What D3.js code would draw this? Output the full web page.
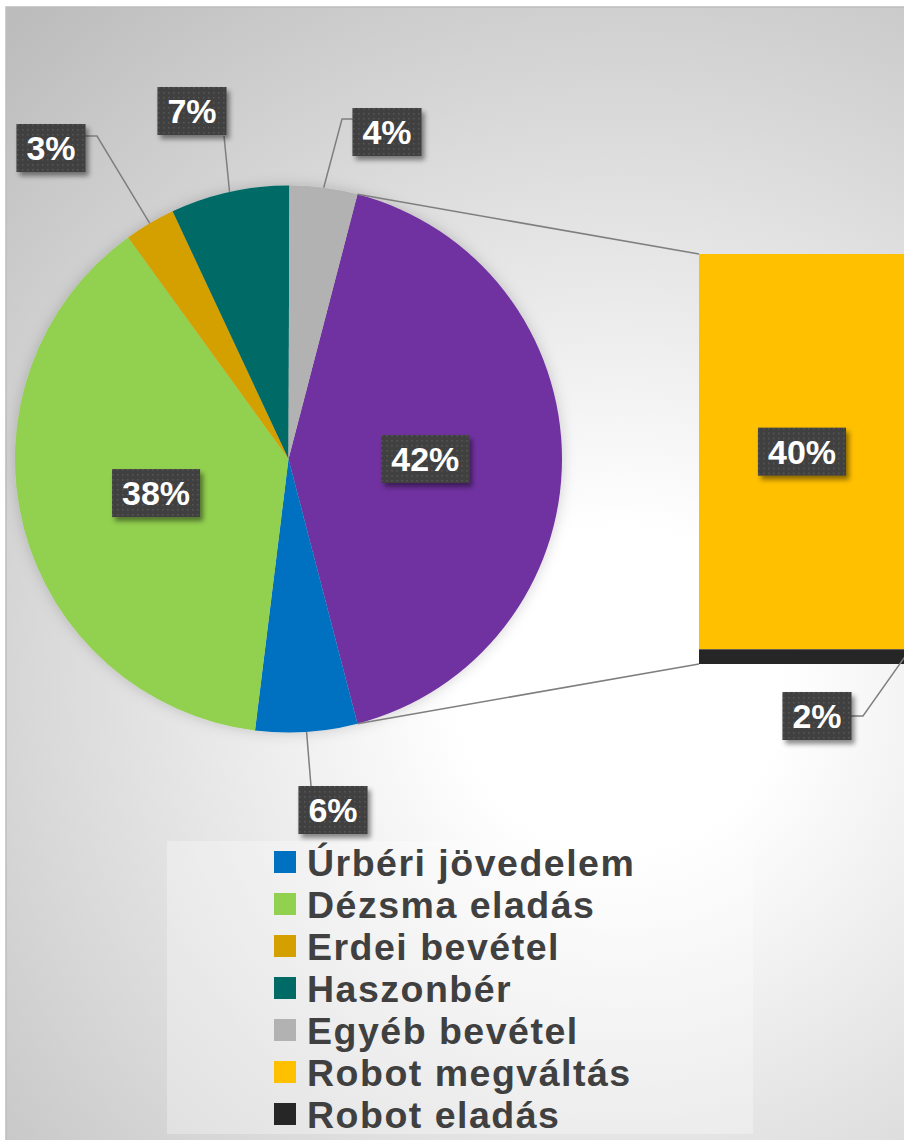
<!DOCTYPE html>
<html>
<head>
<meta charset="utf-8">
<script src="https://cdn.jsdelivr.net/npm/d3@7/dist/d3.min.js"></script>
<style>
body { margin: 0; background: #fff; }
svg { display: block; font-family: "Liberation Sans", Arial, sans-serif; }
</style>
</head>
<body>
<div id="chart-div"></div>
<script>
// slices that stay in the pie
var pieNames = ["Úrbéri jövedelem", "Dézsma eladás", "Erdei bevétel", "Haszonbér", "Egyéb bevétel"];
var pieValues = [6, 38, 3, 7, 4];
// slices split out into the bar on the right
var barNames = ["Robot megváltás", "Robot eladás"];
var barValues = [40.3, 1.5];

var pieColors = ["#0070C0", "#92D050", "#D4A000", "#006A66", "#B2B2B2"];
var barColors = ["#FFC000", "#262626"];
var otherColor = "#7030A0";

var width = 904,
    height = 1140;

var svg = d3.select("#chart-div")
    .append("svg")
    .attr("width", width)
    .attr("height", height)
    .attr("viewBox", [0, 0, width, height]);

var defs = svg.append("defs");

// background gradient
var bg = defs.append("radialGradient")
    .attr("id", "bg")
    .attr("gradientUnits", "userSpaceOnUse")
    .attr("cx", 620).attr("cy", 690).attr("r", 900);
bg.append("stop").attr("offset", 0).attr("stop-color", "#ffffff");
bg.append("stop").attr("offset", 0.18).attr("stop-color", "#ffffff");
bg.append("stop").attr("offset", 1).attr("stop-color", "#bcbcbc");

// dotted texture for label boxes
var dots = defs.append("pattern")
    .attr("id", "dots")
    .attr("width", 5).attr("height", 5)
    .attr("patternUnits", "userSpaceOnUse");
dots.append("rect").attr("width", 5).attr("height", 5).attr("fill", "#404040");
dots.append("rect").attr("x", 1).attr("y", 1).attr("width", 1.5).attr("height", 1.5).attr("fill", "#575757");

var shadow = defs.append("filter").attr("id", "shadow")
    .attr("x", "-30%").attr("y", "-30%").attr("width", "160%").attr("height", "160%");
shadow.append("feDropShadow")
    .attr("dx", 3).attr("dy", 4).attr("stdDeviation", 2.5)
    .attr("flood-color", "#000").attr("flood-opacity", 0.45);

var pieShadow = defs.append("filter").attr("id", "pieshadow")
    .attr("x", "-20%").attr("y", "-20%").attr("width", "140%").attr("height", "140%");
pieShadow.append("feDropShadow")
    .attr("dx", 0).attr("dy", 0).attr("stdDeviation", 7)
    .attr("flood-color", "#000").attr("flood-opacity", 0.18);

svg.append("rect")
    .attr("x", 6).attr("y", 7)
    .attr("width", width).attr("height", height)
    .attr("fill", "url(#bg)")
    .attr("stroke", "#bdbdbd")
    .attr("stroke-width", 1.5);

// legend panel
svg.append("rect")
    .attr("x", 167).attr("y", 841)
    .attr("width", 586).attr("height", 293)
    .attr("fill", "#fff")
    .attr("fill-opacity", 0.3);

// pie data: the "other" slice (sum of bar values) first
var otherTotal = d3.sum(barValues);
var total = d3.sum(pieValues) + otherTotal;
var pct = d3.format(".0%");

var slices = [{name: "other", value: otherTotal, color: otherColor}];
pieNames.forEach(function(n, i) {
    slices.push({name: n, value: pieValues[i], color: pieColors[i]});
});

var cx = 288.5, cy = 459, r = 273.5;
var otherAngle = 2 * Math.PI * otherTotal / total;
var a0 = Math.PI / 2 - otherAngle / 2;

var pie = d3.pie()
    .sort(null)
    .value(function(d) { return d.value; })
    .startAngle(a0)
    .endAngle(a0 + 2 * Math.PI);

var arc = d3.arc().innerRadius(0).outerRadius(r);
var arcs = pie(slices);

var pieG = svg.append("g")
    .attr("transform", "translate(" + cx + "," + cy + ")");

pieG.append("g")
    .attr("filter", "url(#pieshadow)")
    .selectAll("path")
    .data(arcs)
    .enter().append("path")
    .attr("d", arc)
    .attr("fill", function(d) { return d.data.color; });

// bar of the split-out values
var barX = 699, barW = 206;
var y = d3.scaleLinear()
    .domain([0, otherTotal])
    .range([254, 664]);

var barData = [];
var acc = 0;
barNames.forEach(function(n, i) {
    barData.push({name: n, value: barValues[i], y0: acc, y1: acc + barValues[i], color: barColors[i]});
    acc += barValues[i];
});

// connector lines between pie and bar
var other = arcs[0];
function onCircle(a) { return [cx + r * Math.sin(a), cy - r * Math.cos(a)]; }
var p1 = onCircle(other.startAngle), p2 = onCircle(other.endAngle);
svg.append("line")
    .attr("x1", p1[0]).attr("y1", p1[1])
    .attr("x2", barX).attr("y2", y(0))
    .attr("stroke", "#7f7f7f").attr("stroke-width", 1.5);
svg.append("line")
    .attr("x1", p2[0]).attr("y1", p2[1])
    .attr("x2", barX).attr("y2", y(otherTotal))
    .attr("stroke", "#7f7f7f").attr("stroke-width", 1.5);

svg.selectAll(".seg")
    .data(barData)
    .enter().append("rect")
    .attr("class", "seg")
    .attr("x", barX)
    .attr("width", barW)
    .attr("y", function(d) { return y(d.y0); })
    .attr("height", function(d) { return y(d.y1) - y(d.y0); })
    .attr("fill", function(d) { return d.color; });

// label placement for the small slices (Excel moved these by hand)
var outside = {
    "Úrbéri jövedelem": {x: 333, y: 810, path: [[311, 786]]},
    "Erdei bevétel": {x: 51, y: 148, path: [[97, 136], [85, 136]]},
    "Haszonbér": {x: 192, y: 111, path: [[224, 136]]},
    "Egyéb bevétel": {x: 387, y: 132, path: [[342, 119], [353, 119]]},
    "Robot eladás": {x: 817, y: 716, path: [[863, 716], [851, 716]]}
};

var labels = [];
arcs.forEach(function(d) {
    var text = pct(d.value / total);
    var pos = outside[d.data.name];
    if (pos) {
        var mid = (d.startAngle + d.endAngle) / 2;
        labels.push({text: text, x: pos.x, y: pos.y, line: [onCircle(mid)].concat(pos.path)});
    } else {
        var c = arc.centroid(d);
        labels.push({text: text, x: cx + c[0], y: cy + c[1]});
    }
});
barData.forEach(function(d) {
    var text = pct(d.value / total);
    var midY = (y(d.y0) + y(d.y1)) / 2;
    var pos = outside[d.name];
    if (pos) {
        labels.push({text: text, x: pos.x, y: pos.y, line: [[barX + barW, midY]].concat(pos.path)});
    } else {
        labels.push({text: text, x: barX + barW / 2, y: midY});
    }
});

// leader lines
svg.selectAll(".leader")
    .data(labels.filter(function(d) { return d.line; }))
    .enter().append("path")
    .attr("class", "leader")
    .attr("d", function(d) { return d3.line()(d.line); })
    .attr("fill", "none")
    .attr("stroke", "#7f7f7f")
    .attr("stroke-width", 1.5);

var lab = svg.selectAll(".lab")
    .data(labels)
    .enter().append("g")
    .attr("class", "lab")
    .attr("transform", function(d) { return "translate(" + d.x + "," + d.y + ")"; });

lab.append("rect")
    .attr("filter", "url(#shadow)")
    .attr("fill", "url(#dots)")
    .attr("y", -24)
    .attr("height", 48);

lab.append("text")
    .attr("text-anchor", "middle")
    .attr("y", 12)
    .attr("fill", "#fff")
    .style("font-size", "34px")
    .style("font-weight", "bold")
    .text(function(d) { return d.text; });

lab.each(function() {
    var g = d3.select(this);
    var w = g.select("text").node().getComputedTextLength() + 20;
    g.select("rect").attr("x", -w / 2).attr("width", w);
});

// legend
var legendNames = pieNames.concat(barNames);
var legendColors = pieColors.concat(barColors);

var legend = svg.append("g")
    .attr("class", "legend")
    .attr("transform", "translate(274,851)");

legend.selectAll("rect")
    .data(legendNames)
    .enter().append("rect")
    .attr("x", 0)
    .attr("y", function(d, i) { return i * 42; })
    .attr("width", 22)
    .attr("height", 22)
    .attr("fill", function(d, i) { return legendColors[i]; });

legend.selectAll("text")
    .data(legendNames)
    .enter().append("text")
    .attr("x", 33)
    .attr("y", function(d, i) { return i * 42 + 24.5; })
    .attr("fill", "#404040")
    .style("font-size", "37.5px")
    .style("font-weight", "bold")
    .style("letter-spacing", "1.5px")
    .text(function(d) { return d; });
</script>
</body>
</html>
